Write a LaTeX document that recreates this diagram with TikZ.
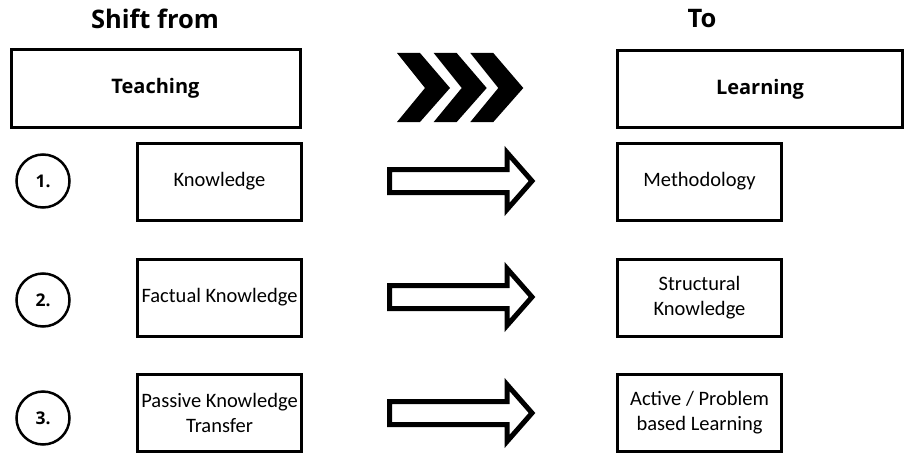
\documentclass[tikz,border=0pt]{standalone}
\usepackage{fontspec}
\setmainfont{Carlito}
\newfontfamily\headfont{Open Sans}
\begin{document}
\begin{tikzpicture}[
    x=1pt,y=-1pt,
    box/.style={draw,black,line width=3pt,minimum width=164pt,minimum height=77pt,inner sep=0pt,align=center,font=\fontsize{20.5}{25}\selectfont},
    bigbox/.style={box,font=\headfont\bfseries\fontsize{20}{24}\selectfont},
    num/.style={draw,black,circle,line width=2.5pt,minimum size=53pt,inner sep=0pt,font=\headfont\bfseries\fontsize{17.5}{20}\selectfont},
    head/.style={font=\headfont\bfseries\fontsize{25.5}{30}\selectfont},
    chev/.style={fill=black},
    blockarrow/.style={draw,black,line width=5pt,line join=miter}
    ]
    \useasboundingbox (0,0) rectangle (909,452);
    \node[head] (from) at (155,19) {Shift from};
    \node[head] (to) at (702,19) {To};
    \node[bigbox,minimum width=289pt] (teach) at (155.5,88.5) {Teaching};
    \node[bigbox,minimum width=285pt] (learn) at (760,89) {Learning};
    \fill[chev] (397,53) -- (420,53) -- (450,88) -- (420,122) -- (397,122) -- (425,88) -- cycle;
    \fill[chev] (433.7,53) -- (456.7,53) -- (486.7,88) -- (456.7,122) -- (433.7,122) -- (461.7,88) -- cycle;
    \fill[chev] (470.3,53) -- (493.3,53) -- (523.3,88) -- (493.3,122) -- (470.3,122) -- (498.3,88) -- cycle;
    \node[num] (n1) at (43,181) {1.};
    \node[num] (n2) at (43,300) {2.};
    \node[num] (n3) at (43,418) {3.};
    \node[box] (a1) at (219.5,181.5) {Knowledge};
    \node[box] (a2) at (219.5,297.5) {Factual Knowledge};
    \node[box] (a3) at (219.5,413) {Passive Knowledge\\Transfer};
    \node[box] (b1) at (699.5,181.5) {Methodology};
    \node[box] (b2) at (699.5,297.5) {Structural\\Knowledge};
    \node[box] (b3) at (699.5,413) {Active / Problem\\based Learning};
    \draw[blockarrow] (389.5,169.5) -- ++(117.5,0) -- ++(0,-17) -- ++(25,28.5) -- ++(-25,28.5) -- ++(0,-17) -- ++(-117.5,0) -- cycle;
    \draw[blockarrow] (389.5,285.5) -- ++(117.5,0) -- ++(0,-17) -- ++(25,28.5) -- ++(-25,28.5) -- ++(0,-17) -- ++(-117.5,0) -- cycle;
    \draw[blockarrow] (389.5,401.5) -- ++(117.5,0) -- ++(0,-17) -- ++(25,28.5) -- ++(-25,28.5) -- ++(0,-17) -- ++(-117.5,0) -- cycle;
\end{tikzpicture}
\end{document}
